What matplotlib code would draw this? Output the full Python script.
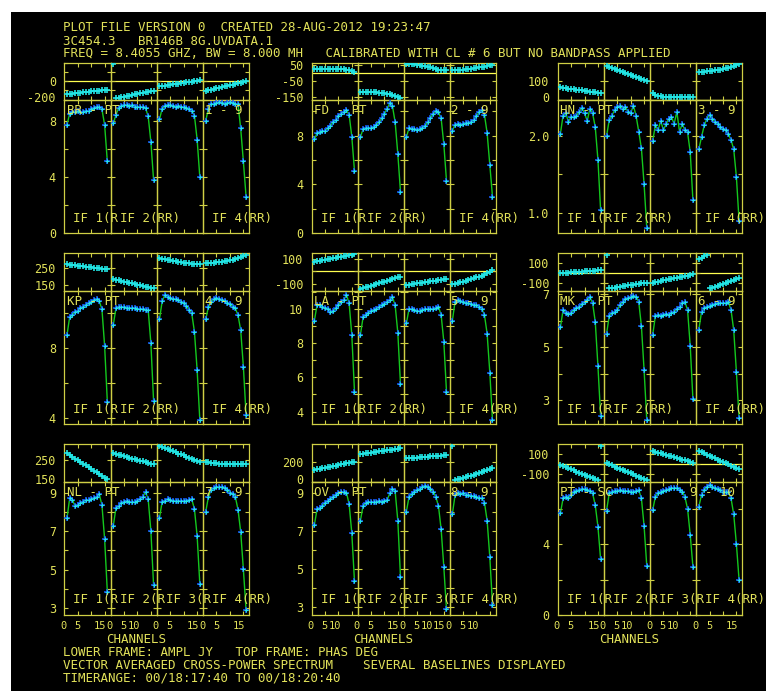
import numpy as np
import matplotlib.pyplot as plt
from matplotlib.patches import Rectangle

# AIPS POSSM style plot: 9 baselines, 4 IFs each, phase (top) and amplitude (bottom)
W, H = 766, 691
TEXT = '#e2e25a'
FRAME = '#cfcf45'
CYAN = '#22e4e4'
BLUE = '#1a5cff'
GREEN = '#14c81e'
MONO = dict(family='DejaVu Sans Mono', size=9, color=TEXT)
MONO_Y = dict(family='DejaVu Sans Mono', size=8.5, color=TEXT)
MONO_X = dict(family='DejaVu Sans Mono', size=7.5, color=TEXT)

channels = np.arange(1, 17)
if_labels = ['IF 1(R', 'IF 2(R', 'IF 3(R', 'IF 4(RR)']

# amplitude (Jy), one list per IF
amp_br_pt = [[7.7, 8.5, 8.6, 8.6, 8.7, 8.6, 8.6, 8.7, 8.7, 8.8, 8.9, 9.0, 8.95, 8.8, 7.7, 5.1],
             [7.8, 8.4, 8.9, 9.05, 9.1, 9.1, 9.05, 9.1, 9.0, 9.0, 9.0, 8.95, 8.9, 8.3, 6.5, 3.8],
             [8.1, 8.85, 9.05, 9.1, 9.1, 9.05, 9.0, 9.05, 9.0, 8.95, 8.9, 8.8, 8.7, 8.35, 6.65, 4.0],
             [8.0, 8.85, 9.15, 9.2, 9.25, 9.3, 9.25, 9.2, 9.25, 9.3, 9.25, 9.2, 9.15, 7.45, 5.1, 2.6]]
amp_fd_pt = [[7.7, 8.2, 8.3, 8.35, 8.4, 8.6, 8.8, 9.1, 9.3, 9.6, 9.8, 9.95, 10.05, 9.7, 7.9, 5.1],
             [7.9, 8.5, 8.6, 8.6, 8.65, 8.7, 8.9, 9.1, 9.4, 9.8, 10.2, 10.65, 10.4, 9.1, 6.5, 3.4],
             [7.9, 8.6, 8.55, 8.5, 8.45, 8.5, 8.6, 8.8, 9.1, 9.4, 9.8, 10.0, 9.9, 9.4, 7.3, 4.3],
             [8.4, 8.9, 8.95, 8.9, 8.95, 9.0, 9.0, 9.1, 9.3, 9.6, 9.9, 10.1, 9.7, 8.2, 5.6, 3.0]]
amp_hn_pt = [[2.03, 2.27, 2.3, 2.19, 2.25, 2.25, 2.27, 2.32, 2.37, 2.3, 2.2, 2.36, 2.3, 2.12, 1.69, 1.03],
             [2.0, 2.21, 2.27, 2.34, 2.38, 2.4, 2.36, 2.38, 2.32, 2.3, 2.4, 2.27, 2.06, 1.84, 1.37, 0.8],
             [1.94, 2.14, 2.08, 2.2, 2.08, 2.16, 2.23, 2.25, 2.16, 2.32, 2.06, 2.16, 2.08, 2.05, 1.79, 1.16],
             [1.83, 1.99, 2.14, 2.23, 2.28, 2.23, 2.19, 2.16, 2.12, 2.09, 2.08, 2.03, 1.95, 1.83, 1.47, 0.89]]
amp_kp_pt = [[8.76, 9.8, 9.9, 10.09, 10.15, 10.29, 10.38, 10.47, 10.57, 10.66, 10.76, 10.8, 10.7, 10.25, 8.13, 4.95],
             [9.33, 10.29, 10.38, 10.35, 10.35, 10.3, 10.33, 10.3, 10.3, 10.28, 10.25, 10.25, 10.22, 10.19, 8.29, 5.0],
             [9.67, 10.7, 11.05, 10.95, 10.9, 10.85, 10.8, 10.76, 10.66, 10.57, 10.42, 10.2, 10.0, 8.95, 6.76, 3.9],
             [9.66, 10.38, 10.66, 10.8, 10.86, 10.8, 10.76, 10.7, 10.6, 10.53, 10.38, 10.29, 9.9, 9.04, 6.95, 4.19]]
amp_la_pt = [[9.32, 10.23, 10.23, 10.13, 10.07, 10.0, 9.8, 9.86, 10.05, 10.23, 10.43, 10.55, 10.82, 10.33, 8.48, 5.16],
             [8.48, 9.51, 9.65, 9.79, 9.9, 9.95, 10.01, 10.13, 10.23, 10.29, 10.43, 10.5, 10.68, 10.23, 8.61, 5.6],
             [9.16, 10.01, 9.97, 9.93, 9.9, 9.89, 9.93, 9.97, 9.99, 10.01, 10.01, 10.05, 10.13, 9.65, 8.09, 5.16],
             [9.32, 10.43, 10.53, 10.47, 10.43, 10.37, 10.33, 10.27, 10.23, 10.23, 10.13, 10.01, 9.65, 8.55, 6.28, 3.5]]
amp_mk_pt = [[5.75, 6.41, 6.28, 6.25, 6.3, 6.41, 6.47, 6.53, 6.62, 6.72, 6.8, 6.89, 6.68, 5.96, 4.28, 2.39],
             [5.5, 6.18, 6.28, 6.33, 6.41, 6.59, 6.72, 6.81, 6.85, 6.91, 6.94, 6.91, 6.72, 5.8, 4.13, 2.24],
             [5.46, 6.18, 6.22, 6.18, 6.22, 6.25, 6.22, 6.28, 6.35, 6.44, 6.53, 6.66, 6.72, 6.41, 5.04, 3.02],
             [5.67, 6.33, 6.47, 6.53, 6.57, 6.59, 6.62, 6.66, 6.66, 6.68, 6.66, 6.72, 6.41, 5.65, 4.07, 2.3]]
amp_nl_pt = [[7.67, 8.71, 8.62, 8.31, 8.36, 8.48, 8.54, 8.62, 8.62, 8.66, 8.71, 8.76, 8.92, 8.36, 6.58, 3.86],
             [7.27, 8.19, 8.31, 8.48, 8.54, 8.59, 8.54, 8.54, 8.54, 8.59, 8.66, 8.79, 9.05, 8.66, 7.01, 4.21],
             [7.7, 8.54, 8.59, 8.66, 8.62, 8.59, 8.59, 8.59, 8.57, 8.59, 8.57, 8.62, 8.66, 8.15, 6.75, 4.26],
             [8.01, 8.79, 9.14, 9.23, 9.31, 9.27, 9.31, 9.23, 9.14, 9.0, 8.92, 8.79, 8.12, 6.97, 5.02, 2.91]]
amp_ov_pt = [[7.31, 8.13, 8.18, 8.3, 8.44, 8.56, 8.67, 8.75, 8.87, 8.96, 9.02, 9.05, 9.0, 8.4, 6.87, 4.34],
             [7.53, 8.3, 8.48, 8.53, 8.53, 8.53, 8.53, 8.56, 8.53, 8.56, 8.62, 8.96, 9.17, 9.08, 7.53, 4.57],
             [8.01, 8.79, 8.92, 9.05, 9.14, 9.22, 9.31, 9.34, 9.31, 9.17, 9.05, 8.79, 8.3, 7.08, 5.1, 2.86],
             [7.88, 8.87, 8.96, 8.92, 8.96, 8.87, 8.87, 8.84, 8.84, 8.79, 8.7, 8.7, 8.48, 7.53, 5.62, 3.12]]
amp_pt_sc = [[5.74, 6.59, 6.68, 6.63, 6.78, 6.97, 7.0, 7.06, 7.1, 7.1, 7.06, 7.0, 6.87, 6.21, 4.99, 3.14],
             [5.89, 6.87, 6.97, 7.0, 7.0, 7.06, 7.02, 7.0, 7.0, 6.97, 6.97, 7.0, 7.06, 6.59, 5.02, 2.77],
             [5.93, 6.68, 6.87, 6.97, 7.0, 7.06, 7.1, 7.16, 7.2, 7.16, 7.06, 6.97, 6.68, 6.0, 4.52, 2.73],
             [6.12, 6.78, 7.06, 7.25, 7.34, 7.25, 7.16, 7.1, 7.06, 6.97, 6.97, 6.92, 6.59, 5.69, 4.01, 1.98]]

# phase (deg), one list per IF
phase_br_pt = [[-142, -139, -136, -132, -129, -126, -122, -119, -115, -112, -109, -105, -102, -99, -95, -92],
               [190, -186, -181, -175, -169, -163, -157, -151, -145, -139, -133, -127, -121, -116, -111, -106],
               [-55, -51, -47, -42, -38, -34, -29, -25, -21, -16, -12, -8, -3, 1, 6, 10],
               [-106, -99, -92, -85, -78, -71, -64, -57, -50, -43, -36, -29, -22, -15, -7, 0]]
phase_fd_pt = [[27, 27, 27, 27, 26, 26, 26, 26, 25, 25, 24, 22, 19, 16, 12, 8],
               [-120, -120, -120, -121, -121, -122, -123, -124, -126, -128, -131, -135, -140, -145, -151, -157],
               [57, 56, 55, 53, 51, 48, 45, 42, 38, 34, 29, 24, 19, 16, 15, 15],
               [16, 17, 18, 19, 20, 22, 24, 26, 28, 31, 34, 37, 40, 44, 48, 51]]
phase_hn_pt = [[64, 62, 60, 58, 56, 54, 52, 50, 48, 46, 44, 42, 40, 38, 37, 35],
               [179, 174, 168, 163, 158, 153, 147, 142, 137, 132, 126, 121, 116, 111, 105, 100],
               [32, 25, 20, 17, 15, 14, 13, 13, 13, 13, 13, 14, 14, 14, 15, 15],
               [143, 145, 147, 149, 150, 152, 154, 156, 158, 161, 164, 167, 171, 176, 182, 190]]
phase_kp_pt = [[274, 272, 270, 268, 266, 264, 262, 260, 258, 256, 254, 252, 250, 248, 246, 244],
               [186, 183, 179, 175, 171, 168, 164, 160, 156, 152, 149, 145, 141, 137, 134, 130],
               [310, 307, 304, 301, 298, 295, 292, 289, 286, 283, 281, 279, 277, 276, 275, 274],
               [280, 281, 282, 284, 285, 287, 289, 292, 295, 298, 302, 306, 311, 317, 323, 330]]
phase_la_pt = [[77, 81, 85, 89, 93, 97, 101, 105, 109, 113, 117, 121, 125, 129, 133, 137],
               [-144, -137, -131, -124, -117, -111, -104, -97, -91, -84, -77, -71, -64, -57, -51, -45],
               [-112, -109, -106, -102, -99, -96, -92, -89, -86, -82, -79, -76, -72, -69, -66, -63],
               [-106, -101, -96, -90, -84, -78, -72, -65, -58, -51, -43, -35, -27, -17, -4, 10]]
phase_mk_pt = [[-3, -1, 1, 4, 6, 8, 10, 13, 15, 17, 19, 22, 24, 26, 29, 31],
               [187, -158, -154, -150, -146, -141, -137, -133, -129, -124, -120, -116, -112, -108, -104, -100],
               [-100, -94, -89, -83, -77, -71, -66, -60, -54, -49, -43, -37, -31, -26, -20, -14],
               [142, 157, 172, 187, -159, -150, -140, -131, -121, -112, -102, -93, -83, -74, -64, -55]]
phase_nl_pt = [[281, 273, 265, 257, 249, 241, 233, 225, 217, 209, 201, 193, 185, 177, 169, 161],
               [281, 278, 274, 271, 268, 264, 261, 257, 254, 251, 247, 244, 240, 237, 234, 230],
               [314, 309, 304, 300, 295, 290, 285, 280, 276, 271, 266, 261, 256, 252, 247, 242],
               [243, 240, 238, 236, 235, 234, 233, 233, 233, 233, 233, 233, 232, 232, 232, 232]]
phase_ov_pt = [[121, 127, 132, 138, 144, 149, 155, 161, 166, 172, 178, 183, 189, 195, 200, 206],
               [286, 290, 294, 298, 301, 305, 309, 313, 317, 321, 325, 328, 332, 336, 340, 344],
               [241, 243, 246, 248, 250, 252, 255, 257, 259, 261, 264, 266, 268, 270, 273, 275],
               [368, 18, 25, 32, 39, 47, 55, 63, 72, 81, 90, 99, 108, 118, 128, 138]]
phase_pt_sc = [[-8, -19, -30, -41, -51, -62, -73, -84, -95, -106, -116, -127, -138, -149, -160, 175],
               [9, -2, -13, -24, -35, -46, -57, -68, -79, -90, -101, -112, -123, -134, -145, -156],
               [130, 122, 115, 107, 99, 92, 84, 76, 69, 61, 53, 45, 38, 30, 23, 15],
               [130, 118, 106, 94, 82, 70, 58, 46, 34, 22, 10, -2, -14, -26, -38, -50]]

# channel tick labels under the bottom row, per IF
xlab_nl_pt = [['0', '5', '15'], ['0', '5', '10'], ['0', '5', '15'], ['0', '5', '15']]
xlab_ov_pt = [['0', '5', '10'], ['0', '5', '15'], ['0', '5', '10', '15'], ['0', '5', '10']]
xlab_pt_sc = [['0', '5', '15'], ['0', '5', '10'], ['0', '5', '10'], ['0', '5', '15']]

panels = [
    dict(name='BR - PT', pair='1 - 9', amp=amp_br_pt, ph=phase_br_pt,
         ph_lim=(-200, 200), ph_ticks=[-200, -100, 0, 100, 200], ph_lab=['0', '-200'],
         am_lim=(0, 9.5), am_ticks=[0, 2, 4, 6, 8], am_lab=['8', '4', '0'], xlab=None),
    dict(name='FD - PT', pair='2 - 9', amp=amp_fd_pt, ph=phase_fd_pt,
         ph_lim=(-167, 62), ph_ticks=[-150, -50, 50], ph_lab=['50', '-50', '-150'],
         am_lim=(0, 10.95), am_ticks=[0, 2, 4, 6, 8, 10], am_lab=['8', '4', '0'], xlab=None),
    dict(name='HN - PT', pair='3 - 9', amp=amp_hn_pt, ph=phase_hn_pt,
         ph_lim=(0, 193), ph_ticks=[0, 100], ph_lab=['100', '0'],
         am_lim=(0.73, 2.48), am_ticks=[1.0, 1.5, 2.0], am_lab=['2.0', '1.0'], xlab=None),
    dict(name='KP - PT', pair='4 - 9', amp=amp_kp_pt, ph=phase_kp_pt,
         ph_lim=(116, 340), ph_ticks=[150, 250], ph_lab=['250', '150'],
         am_lim=(3.67, 11.3), am_ticks=[4, 6, 8, 10], am_lab=['8', '4'], xlab=None),
    dict(name='LA - PT', pair='5 - 9', amp=amp_la_pt, ph=phase_la_pt,
         ph_lim=(-158, 145), ph_ticks=[-100, 0, 100], ph_lab=['100', '-100'],
         am_lim=(3.27, 11.07), am_ticks=[4, 5, 6, 7, 8, 9, 10, 11], am_lab=['10', '8', '6', '4'], xlab=None),
    dict(name='MK - PT', pair='6 - 9', amp=amp_mk_pt, ph=phase_mk_pt,
         ph_lim=(-183, 204), ph_ticks=[-100, 0, 100], ph_lab=['100', '-100'],
         am_lim=(2.09, 7.14), am_ticks=[3, 4, 5, 6, 7], am_lab=['7', '5', '3'], xlab=None),
    dict(name='NL - PT', pair='7 - 9', amp=amp_nl_pt, ph=phase_nl_pt,
         ph_lim=(150, 324), ph_ticks=[150, 250], ph_lab=['250', '150'],
         am_lim=(2.65, 9.57), am_ticks=[3, 4, 5, 6, 7, 8, 9], am_lab=['9', '7', '5', '3'], xlab=xlab_nl_pt),
    dict(name='OV - PT', pair='8 - 9', amp=amp_ov_pt, ph=phase_ov_pt,
         ph_lim=(0, 390), ph_ticks=[0, 200], ph_lab=['200', '0'],
         am_lim=(2.57, 9.58), am_ticks=[3, 4, 5, 6, 7, 8, 9], am_lab=['9', '7', '5', '3'], xlab=xlab_ov_pt),
    dict(name='PT - SC', pair='9 - 10', amp=amp_pt_sc, ph=phase_pt_sc,
         ph_lim=(-173, 199), ph_ticks=[-100, 0, 100], ph_lab=['100', '-100'],
         am_lim=(0, 7.53), am_ticks=[0, 2, 4, 6], am_lab=['4', '0'], xlab=xlab_pt_sc),
]

# layout in pixels
col_left = [64.3, 311.7, 557.7]
col_right = [249.3, 495.7, 742.3]
row_top = [63.0, 253.3, 444.0]
row_mid = [99.5, 290.7, 481.7]
row_bot = [233.3, 424.0, 615.0]
XMAX = 17.2
label_pos = {'0': -0.35, '5': 4.8, '10': 8.6, '15': 13.35}

fig = plt.figure(figsize=(W / 100, H / 100), dpi=100)
fig.patches.append(Rectangle((11 / W, 0), 1 - 11 / W, 1 - 12 / H, transform=fig.transFigure,
                             facecolor='black', edgecolor='none', zorder=-10))


def ftext(x, y, s, **kw):
    fig.text(x / W, 1 - y / H, s, va='baseline', **MONO, **kw)


def add_ax(x0, y0, x1, y1, ylim, yticks):
    ax = fig.add_axes([x0 / W, 1 - y1 / H, (x1 - x0) / W, (y1 - y0) / H])
    ax.set_facecolor('none')
    ax.set_xlim(0, XMAX)
    ax.set_ylim(*ylim)
    ax.set_xticks([5, 10, 15])
    ax.set_yticks(yticks)
    ax.tick_params(direction='in', length=3, width=0.8, color=FRAME, top=True, right=True,
                   labelbottom=False, labelleft=False)
    for s in ax.spines.values():
        s.set_color(FRAME)
        s.set_linewidth(0.9)
    return ax


def ylabels(ax, labels, lower_edge_lift=0.0):
    ymin = ax.get_ylim()[0]
    for lab in labels:
        val = float(lab)
        dy = lower_edge_lift if val == ymin else 0.0
        ax.annotate(lab, xy=(0, val), xycoords=('axes fraction', 'data'),
                    xytext=(-6, dy), textcoords='offset points', ha='right',
                    va='center_baseline', annotation_clip=False, **MONO_Y)


for p, pan in enumerate(panels):
    r, c = divmod(p, 3)
    left, right = col_left[c], col_right[c]
    w4 = (right - left) / 4
    for k in range(4):
        x0 = left + k * w4
        axp = add_ax(x0, row_top[r], x0 + w4, row_mid[r], pan['ph_lim'], pan['ph_ticks'])
        axa = add_ax(x0, row_mid[r], x0 + w4, row_bot[r], pan['am_lim'], pan['am_ticks'])
        axp.axhline(0, color='#ffff50', lw=0.9, zorder=1)

        # phase: break the connecting line where the phase wraps
        ph = np.array(pan['ph'][k], dtype=float)
        ph_line = ph.copy()
        jumps = np.where(np.abs(np.diff(ph)) > 180)[0]
        ph_line[jumps] = np.nan
        axp.plot(channels, ph_line, color=CYAN, lw=1.0, zorder=2)
        axp.plot(channels, ph, ls='none', marker='+', ms=4.5, mew=1.2, color=CYAN, zorder=3)

        am = pan['amp'][k]
        axa.plot(channels, am, color=GREEN, lw=1.0, zorder=2)
        axa.plot(channels, am, ls='none', marker='+', ms=4.5, mew=1.1, color=BLUE, zorder=3)
        axa.plot(channels, am, ls='none', marker='+', ms=2.8, mew=0.8, color=CYAN, zorder=4)

        if k == 0:
            ylabels(axp, pan['ph_lab'], lower_edge_lift=2.0)
            ylabels(axa, pan['am_lab'])

        if pan['xlab'] is not None:
            for lab in pan['xlab'][k]:
                axa.annotate(lab, xy=(label_pos[lab], 0), xycoords=('data', 'axes fraction'),
                             xytext=(0, -10.3), textcoords='offset points', ha='center',
                             va='baseline', annotation_clip=False, **MONO_X)

        # IF labels along the bottom of the amplitude frame
        full = pan['xlab'] is not None
        if k == 2 and not full:
            continue
        lab = if_labels[k]
        if k == 1 and not full:
            lab = 'IF 2(RR)'
        ftext(x0 + 9.0, row_bot[r] - 11.5, lab)

    ftext(left + 2.5, row_mid[r] + 14, pan['name'])
    ftext(right - 7, row_mid[r] + 14, pan['pair'], ha='right')
    if r == 2:
        ftext(left + 41.5, 643.3, 'CHANNELS')

# header and footer
ftext(63, 31.3, 'PLOT FILE VERSION 0  CREATED 28-AUG-2012 19:23:47')
ftext(63, 44.7, '3C454.3   BR146B 8G.UVDATA.1')
ftext(63, 57.3, 'FREQ = 8.4055 GHZ, BW = 8.000 MH   CALIBRATED WITH CL # 6 BUT NO BANDPASS APPLIED')
ftext(63, 656.0, 'LOWER FRAME: AMPL JY   TOP FRAME: PHAS DEG')
ftext(63, 669.3, 'VECTOR AVERAGED CROSS-POWER SPECTRUM    SEVERAL BASELINES DISPLAYED')
ftext(63, 681.7, 'TIMERANGE: 00/18:17:40 TO 00/18:20:40')

fig.savefig('out.png', dpi=100, facecolor='white')
